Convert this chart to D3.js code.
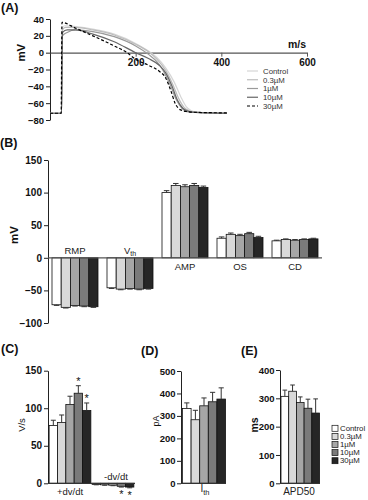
<!DOCTYPE html>
<html><head><meta charset="utf-8">
<script src="https://cdn.jsdelivr.net/npm/d3@7"></script>
<style>body{margin:0;background:#fff}svg{display:block;font-family:"Liberation Sans",Arial,sans-serif}</style>
</head><body><svg width="368" height="500"></svg>
<script>
// ---------- data ----------
const series = ["Control", "0.3µM", "1µM", "10µM", "30µM"];
const barColors = ["#ffffff", "#d9d9d9", "#a6a6a6", "#7a7a7a", "#262626"];
const lineColors = ["#d6d6d6", "#bcbcbc", "#9a9a9a", "#666666", "#000000"];

// Panel A: action potential traces [time ms, mV]
const traceControl = [[0,-72],[27,-72],[29,30],[35,32],[60,31],[100,28],[150,22],[200,11],[230,2],[250,-6],[270,-18],[290,-35],[305,-52],[318,-64],[330,-69],[345,-71],[413,-72]];
const trace03 = [[0,-72],[27,-72],[29,27],[36,30],[60,30],[100,27],[150,21],[200,10],[230,1],[250,-8],[270,-21],[287,-38],[300,-54],[313,-65],[325,-69],[340,-71],[413,-72]];
const trace1 = [[0,-72],[27,-72],[29,20],[40,24],[60,27],[100,25],[150,19],[200,8],[230,-2],[250,-11],[265,-22],[282,-40],[295,-56],[308,-66],[320,-70],[340,-71],[413,-72]];
const trace10 = [[0,-72],[27,-72],[29,24],[40,27],[60,27],[100,22],[150,13],[200,0],[230,-7],[255,-15],[270,-24],[285,-40],[297,-56],[310,-66],[325,-70],[340,-71],[413,-72]];
const trace30 = [[0,-72],[26,-72],[28,36],[60,29],[100,20],[150,8],[180,0],[200,-8],[230,-15],[255,-22],[270,-30],[282,-45],[292,-60],[305,-68],[320,-70],[345,-71],[413,-71.5]];
const traces = [traceControl, trace03, trace1, trace10, trace30];
const apXTicks = [200, 400, 600];
const apYTicks = [-80, -60, -40, -20, 0, 20, 40];

// Panel B: AP parameters (mV)
const bGroups = ["RMP", "Vth", "AMP", "OS", "CD"];
const rmpMean = [-72, -76, -73, -74, -75];
const rmpErr  = [1, 1, 1, 1, 1];
const vthMean = [-46, -48, -47, -48, -47];
const vthErr  = [1, 1, 1, 1, 1];
const ampMean = [100, 111, 109, 111, 108];
const ampErr  = [3, 3, 3, 3, 2];
const osMean  = [30, 36, 34, 37, 31];
const osErr   = [2, 2, 2, 2, 2];
const cdMean  = [26, 28, 27, 28, 29];
const cdErr   = [1, 1, 1, 1, 1];
const bYTicks = [-100, -50, 0, 50, 100, 150];

// Panel C: dV/dt (V/s)
const cGroups = ["+dv/dt", "-dv/dt"];
const upMean  = [77, 81, 105, 120, 97];
const upErr   = [7, 10, 11, 10, 10];
const upStar  = [false, false, false, true, true];
const downMean = [-1.5, -2, -2.5, -4, -5];
const downErr  = [0.5, 0.6, 0.7, 1, 1];
const downStar = [false, false, false, true, true];
const cYTicks = [0, 50, 100, 150];

// Panel D: threshold current (pA)
const ithMean = [333, 283, 345, 363, 375];
const ithErr  = [25, 42, 35, 42, 50];
const dYTicks = [0, 100, 200, 300, 400, 500];

// Panel E: APD50 (ms)
const apdMean = [307, 325, 285, 265, 248];
const apdErr  = [22, 22, 20, 32, 50];
const eYTicks = [0, 100, 200, 300, 400];

// ---------- drawing ----------
const svg = d3.select("svg");
const FONT = '"Liberation Sans", Arial, sans-serif';

function styleAxis(g, fs, col) {
  g.selectAll("path.domain").attr("stroke", col || "#222").attr("stroke-width", 1);
  g.selectAll(".tick line").attr("stroke", col || "#222");
  g.selectAll(".tick text").attr("font-size", fs).attr("font-weight", "bold")
    .attr("fill", "#111").attr("font-family", FONT);
}
function text(x, y, s, o = {}) {
  return svg.append("text").attr("x", x).attr("y", y).text(s)
    .attr("font-family", FONT).attr("font-size", o.size || 10)
    .attr("font-weight", o.weight || "normal")
    .attr("text-anchor", o.anchor || "start").attr("fill", o.fill || "#111");
}
function vLabel(x, y, s, size, weight) {
  svg.append("text").attr("transform", `translate(${x},${y}) rotate(-90)`)
    .attr("text-anchor", "middle").attr("dominant-baseline", "central")
    .attr("font-family", FONT).attr("font-size", size).attr("font-weight", weight).attr("fill", "#111").text(s);
}

// Panel letters
text(1, 12, "(A)", {size: 12.5, weight: "bold"});
text(0, 147, "(B)", {size: 12.5, weight: "bold"});
text(1, 353, "(C)", {size: 12.5, weight: "bold"});
text(141, 355, "(D)", {size: 12.5, weight: "bold"});
text(241, 355, "(E)", {size: 12.5, weight: "bold"});

// ===== Panel A =====
const ax = d3.scaleLinear().domain([0, 600]).range([50, 307]);
const ay = d3.scaleLinear().domain([-80, 40]).range([120, 19]);
svg.append("g").attr("transform", "translate(50,0)")
  .call(d3.axisLeft(ay).tickValues(apYTicks).tickSize(4).tickSizeOuter(0).tickPadding(2))
  .call(styleAxis, 9.5);
svg.append("g").attr("transform", `translate(0,${ay(0)})`)
  .call(d3.axisBottom(ax).tickValues(apXTicks).tickSize(4).tickSizeOuter(0).tickPadding(2))
  .call(styleAxis, 10, "#555")
  .call(g => g.select("path.domain").attr("stroke-width", 1.4));
vLabel(21, ay(0), "mV", 11.5, "bold");
text(297, 48, "m/s", {size: 10.5, weight: "bold", anchor: "middle"});

const line = d3.line().x(d => ax(d[0])).y(d => ay(d[1])).curve(d3.curveMonotoneX);
traces.forEach((t, i) => {
  svg.append("path").datum(t).attr("d", line).attr("fill", "none")
    .attr("stroke", lineColors[i]).attr("stroke-width", 1.2)
    .attr("stroke-dasharray", i === 4 ? "3,2" : null);
});
series.forEach((s, i) => {
  const y = 71 + i * 8.75;
  svg.append("line").attr("x1", 247).attr("x2", 258).attr("y1", y).attr("y2", y)
    .attr("stroke", lineColors[i]).attr("stroke-width", 1.2)
    .attr("stroke-dasharray", i === 4 ? "3,2" : null);
  text(263, y + 2.8, s, {size: 7.8, fill: "#333"});
});

// ===== generic bar drawing =====
function drawBars(xStart, bw, y, means, errs) {
  means.forEach((v, i) => {
    const x0 = xStart + i * bw;
    svg.append("rect").attr("x", x0).attr("width", bw)
      .attr("y", Math.min(y(0), y(v))).attr("height", Math.abs(y(v) - y(0)))
      .attr("fill", barColors[i]).attr("stroke", "#111").attr("stroke-width", 0.8);
    const sign = v >= 0 ? 1 : -1;
    const yEnd = y(v + sign * errs[i]);
    const cx = x0 + bw / 2;
    svg.append("line").attr("x1", cx).attr("x2", cx).attr("y1", y(v)).attr("y2", yEnd)
      .attr("stroke", "#333").attr("stroke-width", 1);
    svg.append("line").attr("x1", cx - bw * 0.3).attr("x2", cx + bw * 0.3).attr("y1", yEnd).attr("y2", yEnd)
      .attr("stroke", "#333").attr("stroke-width", 1);
  });
}

// ===== Panel B =====
const by = d3.scaleLinear().domain([-100, 150]).range([323, 160]);
const bx = d3.scaleBand().domain(bGroups).range([47.5, 322.5]).paddingInner(9 / 55).paddingOuter(4.5 / 55);
const bData = [[rmpMean, rmpErr], [vthMean, vthErr], [ampMean, ampErr], [osMean, osErr], [cdMean, cdErr]];
svg.append("g").attr("transform", "translate(48,0)")
  .call(d3.axisLeft(by).tickValues(bYTicks).tickSize(4).tickSizeOuter(0).tickPadding(2))
  .call(styleAxis, 10);
bGroups.forEach((g, gi) => {
  const [m, e] = bData[gi];
  const sb = d3.scaleBand().domain(series).range([bx(g), bx(g) + bx.bandwidth()]);
  drawBars(sb(series[0]), sb.bandwidth(), by, m, e);
});
svg.append("line").attr("x1", 48).attr("x2", 322).attr("y1", by(0)).attr("y2", by(0))
  .attr("stroke", "#555").attr("stroke-width", 1.3);
vLabel(14, 235, "mV", 11.5, "bold");
bGroups.forEach((g, gi) => {
  const cx = bx(g) + bx.bandwidth() / 2;
  const neg = bData[gi][0][0] < 0;
  const t = text(cx, neg ? by(0) - 4 : by(0) + 12, g === "Vth" ? "V" : g, {size: 9.5, anchor: "middle", fill: "#222"});
  if (g === "Vth") t.append("tspan").attr("font-size", 7).attr("dy", 2.5).text("th");
});

// ===== Panel C =====
const cy = d3.scaleLinear().domain([0, 150]).range([483.3, 370.7]);
const cx = d3.scaleBand().domain(cGroups).range([48.5, 134.5]).paddingInner(0.03).paddingOuter(0.015);
svg.append("g").attr("transform", "translate(48,0)")
  .call(d3.axisLeft(cy).tickValues(cYTicks).tickSize(4).tickSizeOuter(0).tickPadding(2))
  .call(styleAxis, 10);
[[upMean, upErr, upStar], [downMean, downErr, downStar]].forEach(([m, e, st], gi) => {
  const g = cGroups[gi];
  const sb = d3.scaleBand().domain(series).range([cx(g), cx(g) + cx.bandwidth()]);
  drawBars(sb(series[0]), sb.bandwidth(), cy, m, e);
  st.forEach((s, i) => {
    if (!s) return;
    const xc = sb(series[i]) + sb.bandwidth() / 2;
    const yy = m[i] >= 0 ? cy(m[i] + e[i]) - 1 : cy(m[i] - e[i]) + 11;
    text(xc, yy, "*", {size: 11, anchor: "middle"});
  });
});
svg.append("line").attr("x1", 48).attr("x2", 135).attr("y1", cy(0)).attr("y2", cy(0))
  .attr("stroke", "#333").attr("stroke-width", 1.2);
vLabel(21, 425, "V/s", 9.5, "normal");
text(cx(cGroups[0]) + cx.bandwidth() / 2, 495, "+dv/dt", {size: 9.5, anchor: "middle", fill: "#222"});
text(cx(cGroups[1]) + cx.bandwidth() / 2 + 3, 480, "-dv/dt", {size: 9.5, anchor: "middle", fill: "#222"});

// ===== Panel D =====
const dy = d3.scaleLinear().domain([0, 500]).range([483.3, 371]);
const dxb = d3.scaleBand().domain(series).range([182.5, 225.5]);
svg.append("g").attr("transform", "translate(181,0)")
  .call(d3.axisLeft(dy).tickValues(dYTicks).tickSize(4).tickSizeOuter(0).tickPadding(1.5))
  .call(styleAxis, 9.5);
drawBars(dxb(series[0]), dxb.bandwidth(), dy, ithMean, ithErr);
svg.append("line").attr("x1", 181).attr("x2", 226).attr("y1", dy(0)).attr("y2", dy(0))
  .attr("stroke", "#333").attr("stroke-width", 1.2);
vLabel(156, 421, "pA", 9, "normal");
const ith = text(205, 492, "I", {size: 10, anchor: "middle", fill: "#222"});
ith.append("tspan").attr("font-size", 7.5).attr("dy", 3).text("th");

// ===== Panel E =====
const ey = d3.scaleLinear().domain([0, 400]).range([483.3, 370]);
const exb = d3.scaleBand().domain(series).range([281, 319.5]);
svg.append("g").attr("transform", "translate(280,0)")
  .call(d3.axisLeft(ey).tickValues(eYTicks).tickSize(4).tickSizeOuter(0).tickPadding(1.5))
  .call(styleAxis, 9.5);
drawBars(exb(series[0]), exb.bandwidth(), ey, apdMean, apdErr);
svg.append("line").attr("x1", 280).attr("x2", 320).attr("y1", ey(0)).attr("y2", ey(0))
  .attr("stroke", "#333").attr("stroke-width", 1.2);
vLabel(254, 425, "ms", 10.5, "bold");
text(299, 495, "APD50", {size: 10, anchor: "middle", fill: "#222"});
series.forEach((s, i) => {
  const y = 428.3 + i * 8.1;
  svg.append("rect").attr("x", 332).attr("y", y - 3).attr("width", 6).attr("height", 6)
    .attr("fill", barColors[i]).attr("stroke", "#111").attr("stroke-width", 0.7);
  text(340, y + 2.7, s, {size: 7.8, fill: "#222"});
});
</script></body></html>
